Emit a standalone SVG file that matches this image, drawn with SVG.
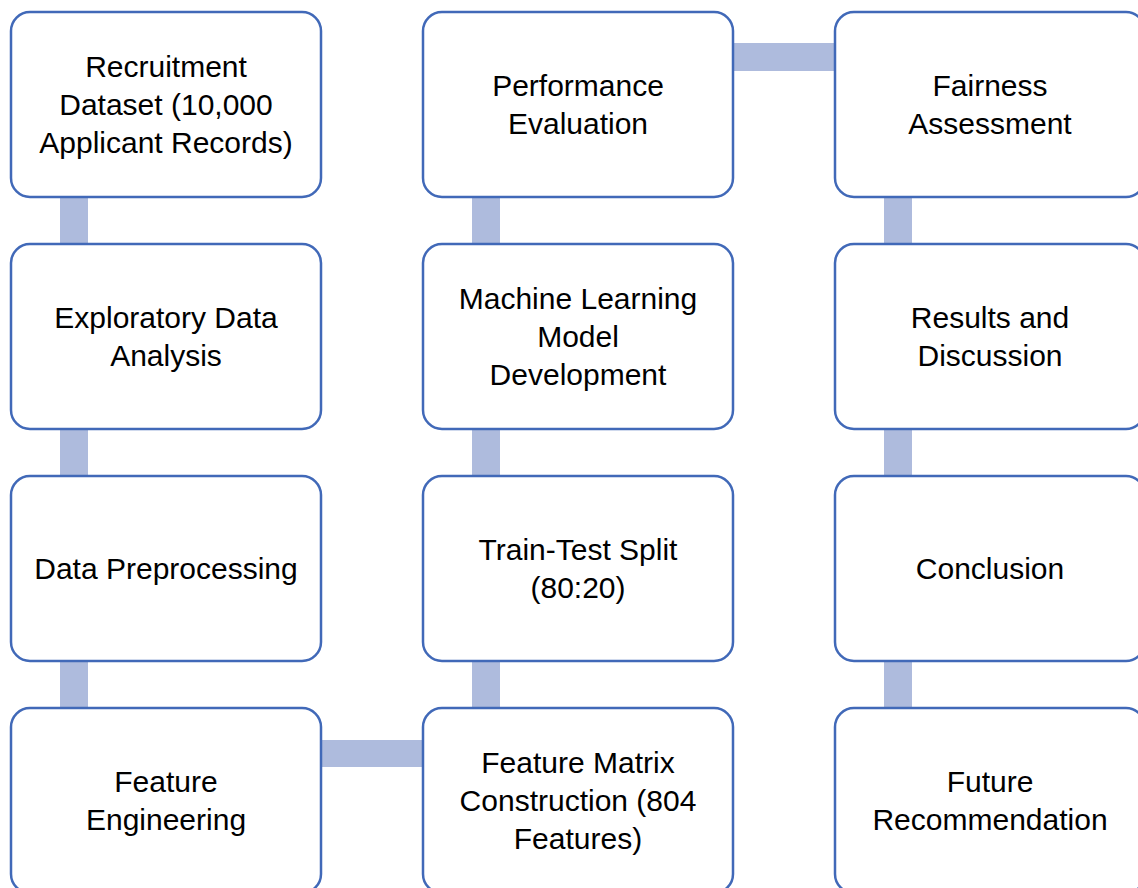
<svg xmlns="http://www.w3.org/2000/svg" width="1138" height="888" viewBox="0 0 1138 888">
  <style>
    .box { fill: #FFFFFF; stroke: #4169B8; stroke-width: 2.5; }
    .link { fill: #AEBBDD; stroke: none; }
    .label { font-family: "Liberation Sans", Arial, sans-serif; font-size: 30px; fill: #000000; text-anchor: middle; }
  </style>
  <rect width="1138" height="888" fill="#FFFFFF"/>

  <!-- connector bars, drawn beneath the boxes -->
  <g id="connectors">
    <rect class="link" x="60" y="196" width="28" height="50"/>
    <rect class="link" x="60" y="428" width="28" height="50"/>
    <rect class="link" x="60" y="660" width="28" height="50"/>
    <rect class="link" x="320" y="740" width="105" height="27"/>
    <rect class="link" x="472" y="660" width="28" height="50"/>
    <rect class="link" x="472" y="428" width="28" height="50"/>
    <rect class="link" x="472" y="196" width="28" height="50"/>
    <rect class="link" x="732" y="43" width="105" height="28"/>
    <rect class="link" x="884" y="196" width="28" height="50"/>
    <rect class="link" x="884" y="428" width="28" height="50"/>
    <rect class="link" x="884" y="660" width="28" height="50"/>
  </g>

  <!-- column 1 -->
  <g id="recruitment-dataset">
    <rect class="box" x="11" y="12" width="310" height="185" rx="19"/>
    <text class="label" x="166" y="77">Recruitment</text>
    <text class="label" x="166" y="115">Dataset (10,000</text>
    <text class="label" x="166" y="153">Applicant Records)</text>
  </g>
  <g id="exploratory-data-analysis">
    <rect class="box" x="11" y="244" width="310" height="185" rx="19"/>
    <text class="label" x="166" y="328">Exploratory Data</text>
    <text class="label" x="166" y="366">Analysis</text>
  </g>
  <g id="data-preprocessing">
    <rect class="box" x="11" y="476" width="310" height="185" rx="19"/>
    <text class="label" x="166" y="579">Data Preprocessing</text>
  </g>
  <g id="feature-engineering">
    <rect class="box" x="11" y="708" width="310" height="185" rx="19"/>
    <text class="label" x="166" y="792">Feature</text>
    <text class="label" x="166" y="830">Engineering</text>
  </g>

  <!-- column 2 -->
  <g id="performance-evaluation">
    <rect class="box" x="423" y="12" width="310" height="185" rx="19"/>
    <text class="label" x="578" y="96">Performance</text>
    <text class="label" x="578" y="134">Evaluation</text>
  </g>
  <g id="model-development">
    <rect class="box" x="423" y="244" width="310" height="185" rx="19"/>
    <text class="label" x="578" y="309">Machine Learning</text>
    <text class="label" x="578" y="347">Model</text>
    <text class="label" x="578" y="385">Development</text>
  </g>
  <g id="train-test-split">
    <rect class="box" x="423" y="476" width="310" height="185" rx="19"/>
    <text class="label" x="578" y="560">Train-Test Split</text>
    <text class="label" x="578" y="598">(80:20)</text>
  </g>
  <g id="feature-matrix">
    <rect class="box" x="423" y="708" width="310" height="185" rx="19"/>
    <text class="label" x="578" y="773">Feature Matrix</text>
    <text class="label" x="578" y="811">Construction (804</text>
    <text class="label" x="578" y="849">Features)</text>
  </g>

  <!-- column 3 -->
  <g id="fairness-assessment">
    <rect class="box" x="835" y="12" width="310" height="185" rx="19"/>
    <text class="label" x="990" y="96">Fairness</text>
    <text class="label" x="990" y="134">Assessment</text>
  </g>
  <g id="results-discussion">
    <rect class="box" x="835" y="244" width="310" height="185" rx="19"/>
    <text class="label" x="990" y="328">Results and</text>
    <text class="label" x="990" y="366">Discussion</text>
  </g>
  <g id="conclusion">
    <rect class="box" x="835" y="476" width="310" height="185" rx="19"/>
    <text class="label" x="990" y="579">Conclusion</text>
  </g>
  <g id="future-recommendation">
    <rect class="box" x="835" y="708" width="310" height="185" rx="19"/>
    <text class="label" x="990" y="792">Future</text>
    <text class="label" x="990" y="830">Recommendation</text>
  </g>
</svg>
